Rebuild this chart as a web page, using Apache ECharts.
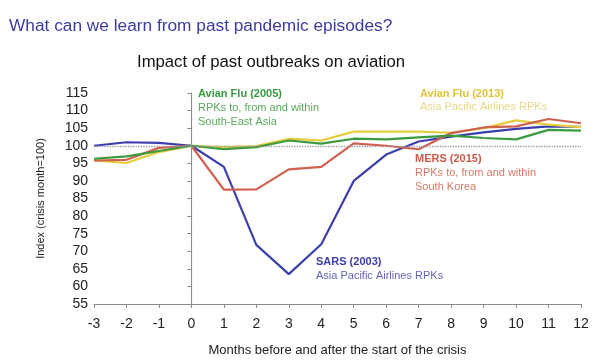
<!DOCTYPE html>
<html><head><meta charset="utf-8">
<script src="https://cdn.jsdelivr.net/npm/echarts@6/dist/echarts.min.js"></script>
<style>html,body{margin:0;padding:0;background:#fff}#c{width:600px;height:364px}</style>
</head><body><div id="c"></div>
<script>
const months = [-3,-2,-1,0,1,2,3,4,5,6,7,8,9,10,11,12];
const sars2003 = [100,101,100.8,100,94,71.8,63.5,72,90,97.5,101.2,102.6,103.8,104.8,105.5,105.4];
const mers2015 = [95.8,96,99.4,100,87.5,87.6,93.3,94,100.7,100,99,103.6,105.2,105.5,107.6,106.4];
const avian2005 = [96.3,97,98.5,100,99,99.6,101.5,100.6,102,101.8,102.4,102.9,102.2,101.8,104.5,104.3];
const avian2013 = [95.8,95.1,98.2,100,99.6,99.9,102,101.5,104,104,104,103.7,105,107.2,106,105.3];
const yTicks = [55,115,5];

const font = 'Liberation Sans, Arial, sans-serif';
const C = {sars:'#3b3fae', mers:'#d0604e', a05:'#3c9a3e', a13:'#e6cd3c'};
function pairs(v){return months.map((m,i)=>[m,v[i]]);}
function line(name,data,color){return {name,type:'line',data:pairs(data),symbol:'none',lineStyle:{width:2.2,color},itemStyle:{color},z:3};}

const chart = echarts.init(document.getElementById('c'));
chart.setOption({
  backgroundColor:'#fff',
  animation:false,
  textStyle:{fontFamily:font},
  title:[
    {text:'What can we learn from past pandemic episodes?',left:4,top:13,textStyle:{fontFamily:font,fontSize:17.3,fontWeight:'normal',color:'#3a3ca0'}},
    {text:'Impact of past outbreaks on aviation',left:132,top:49,textStyle:{fontFamily:font,fontSize:16.7,fontWeight:'normal',color:'#111'}}
  ],
  grid:{left:94,right:19,top:93,bottom:60},
  xAxis:{type:'value',min:months[0],max:months[months.length-1],interval:1,
    name:'Months before and after the start of the crisis',nameLocation:'middle',nameGap:40,
    nameTextStyle:{fontFamily:font,fontSize:13,color:'#222'},
    axisLine:{lineStyle:{color:'#888',width:1}},axisTick:{show:true,length:4,lineStyle:{color:'#888'}},
    axisLabel:{fontFamily:font,fontSize:14,color:'#222',margin:13},splitLine:{show:false}},
  yAxis:{type:'value',min:yTicks[0],max:yTicks[1],interval:yTicks[2],
    name:'Index (crisis month=100)',nameLocation:'middle',nameGap:48,
    nameTextStyle:{fontFamily:font,fontSize:11,color:'#222'},
    axisLine:{show:true,lineStyle:{color:'#888',width:1}},axisTick:{show:true,length:4,lineStyle:{color:'#888'}},
    axisLabel:{fontFamily:font,fontSize:14,color:'#222',margin:6},splitLine:{show:false}},
  series:[
    Object.assign(line('SARS (2003)',sars2003,C.sars),{markLine:{silent:true,symbol:'none',label:{show:false},
      lineStyle:{type:'dotted',color:'#999',width:1.3},data:[{yAxis:100},{xAxis:0}]}}),
    line('Avian Flu (2013)',avian2013,C.a13),
    line('MERS (2015)',mers2015,C.mers),
    line('Avian Flu (2005)',avian2005,C.a05)
  ],
  graphic:[
    {type:'text',left:198,top:88,style:{text:'{b|Avian Flu (2005)}\n{n|RPKs to, from and within}\n{n|South-East Asia}',
      rich:{b:{fontFamily:font,fontSize:11,fontWeight:'bold',fill:'#3c9a3e',lineHeight:14},n:{fontFamily:font,fontSize:11,fill:'#5aa85c',lineHeight:14}}}},
    {type:'text',left:420,top:88,style:{text:'{b|Avian Flu (2013)}\n{n|Asia Pacific Airlines RPKs}',
      rich:{b:{fontFamily:font,fontSize:11,fontWeight:'bold',fill:'#e0c43a',lineHeight:13},n:{fontFamily:font,fontSize:11,fill:'#e6d88a',lineHeight:13}}}},
    {type:'text',left:415,top:153,style:{text:'{b|MERS (2015)}\n{n|RPKs to, from and within}\n{n|South Korea}',
      rich:{b:{fontFamily:font,fontSize:11,fontWeight:'bold',fill:'#d05a48',lineHeight:14},n:{fontFamily:font,fontSize:11,fill:'#d77a68',lineHeight:14}}}},
    {type:'text',left:316,top:256,style:{text:'{b|SARS (2003)}\n{n|Asia Pacific Airlines RPKs}',
      rich:{b:{fontFamily:font,fontSize:11,fontWeight:'bold',fill:'#3b3fae',lineHeight:14},n:{fontFamily:font,fontSize:11,fill:'#6366b8',lineHeight:14}}}}
  ]
});
</script></body></html>
